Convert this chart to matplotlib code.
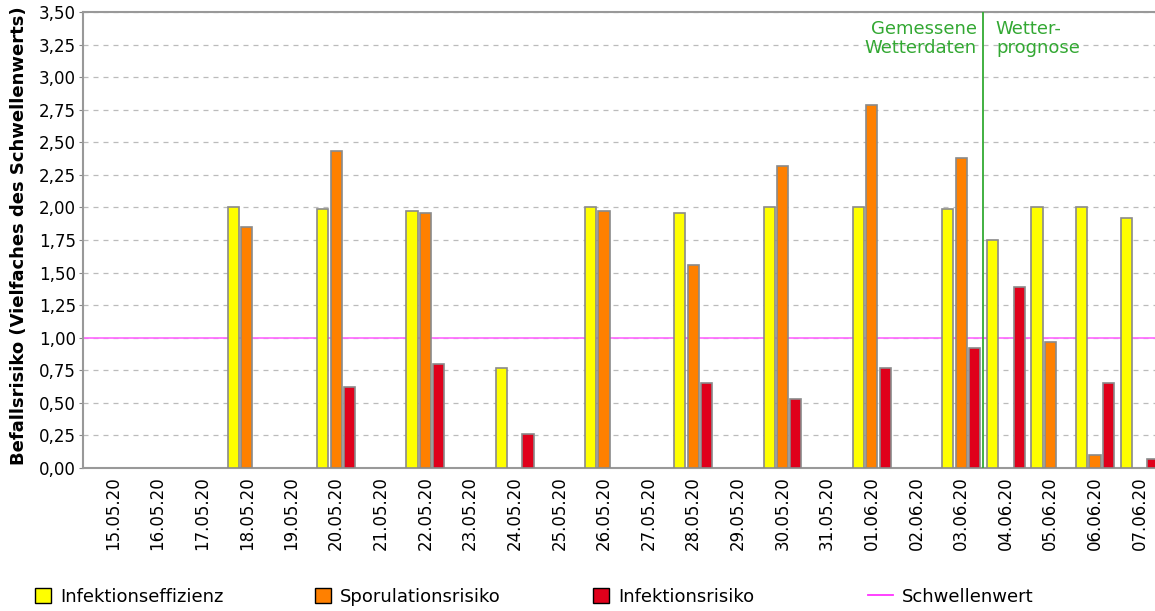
import numpy as np
import matplotlib.pyplot as plt
from matplotlib.lines import Line2D
from matplotlib.patches import Patch

# Befallsrisiko per day, three series plus threshold

dates = ["15.05.20", "16.05.20", "17.05.20", "18.05.20", "19.05.20", "20.05.20",
         "21.05.20", "22.05.20", "23.05.20", "24.05.20", "25.05.20", "26.05.20",
         "27.05.20", "28.05.20", "29.05.20", "30.05.20", "31.05.20", "01.06.20",
         "02.06.20", "03.06.20", "04.06.20", "05.06.20", "06.06.20", "07.06.20"]

infektionseffizienz = [0, 0, 0, 2.00, 0, 1.99, 0, 1.97, 0, 0.77, 0, 2.00,
                       0, 1.96, 0, 2.00, 0, 2.00, 0, 1.99, 1.75, 2.00, 2.00, 1.92]
sporulationsrisiko = [0, 0, 0, 1.85, 0, 2.43, 0, 1.96, 0, 0, 0, 1.97,
                      0, 1.56, 0, 2.32, 0, 2.79, 0, 2.38, 0, 0.97, 0.10, 0]
infektionsrisiko = [0, 0, 0, 0, 0, 0.62, 0, 0.80, 0, 0.26, 0, 0,
                    0, 0.65, 0, 0.53, 0, 0.77, 0, 0.92, 1.39, 0, 0.65, 0.07]
schwellenwert = 1.0
forecast_start = 19.5

yticks = np.arange(0, 3.51, 0.25)


def no_zero(vals):
    # zero bars are not drawn in the original
    v = np.array(vals, dtype=float)
    v[v == 0] = np.nan
    return v


x = np.arange(len(dates))
w = 0.25
step = 0.30

fig = plt.figure(figsize=(11.55, 6.11), dpi=100)
ax = fig.add_axes([83 / 1155, (611 - 468) / 611, (1170 - 83) / 1155, 456 / 611])

edge = "#8a8a8a"
ax.bar(x - step, no_zero(infektionseffizienz), w, color="#ffff00", edgecolor=edge, linewidth=1.2, zorder=3)
ax.bar(x, no_zero(sporulationsrisiko), w, color="#ff8000", edgecolor=edge, linewidth=1.2, zorder=3)
ax.bar(x + step, no_zero(infektionsrisiko), w, color="#e0001b", edgecolor=edge, linewidth=1.2, zorder=3)

ax.axhline(schwellenwert, color="#ff66ff", linewidth=1.2, zorder=2)
ax.axvline(forecast_start, color="#33aa33", linewidth=1.3, zorder=4)

green = "#33a833"
ax.text(forecast_start - 0.15, 3.44, "Gemessene\nWetterdaten", color=green, ha="right", va="top",
        fontsize=13, linespacing=1.1)
ax.text(forecast_start + 0.28, 3.44, "Wetter-\nprognose", color=green, ha="left", va="top",
        fontsize=13, linespacing=1.1)

ax.set_xlim(-0.67, 23.68)
ax.set_ylim(0, 3.5)
ax.set_xticks(x)
ax.set_xticklabels(dates, rotation=90, fontsize=12)
ax.set_yticks(yticks)
ax.set_yticklabels([f"{v:.2f}".replace(".", ",") for v in yticks], fontsize=12)
ax.tick_params(axis="x", length=0, pad=6)
ax.tick_params(axis="y", length=3, color="#888888", pad=2)
ax.yaxis.grid(True, linestyle=(0, (4, 4)), color="#bbbbbb", linewidth=0.9)
ax.set_axisbelow(True)
for s in ["left", "top", "bottom"]:
    ax.spines[s].set_color("#999999")
    ax.spines[s].set_linewidth(1.5)
ax.spines["right"].set_visible(False)

ax.set_ylabel("Befallsrisiko (Vielfaches des Schwellenwerts)", fontsize=13, fontweight="bold")
ax.yaxis.set_label_coords(-0.051, 0.51)

handles = [Patch(facecolor="#ffff00", edgecolor="black"),
           Patch(facecolor="#ff8000", edgecolor="black"),
           Patch(facecolor="#e0001b", edgecolor="black"),
           Line2D([0], [0], color="#ff33ff", linewidth=1.3)]
labels = ["Infektionseffizienz", "Sporulationsrisiko", "Infektionsrisiko", "Schwellenwert"]
xs = [35, 315, 593, 868]
for h, lab, px in zip(handles, labels, xs):
    fig.legend([h], [lab], loc="center left", bbox_to_anchor=(px / 1155, 1 - 597 / 611),
               frameon=False, fontsize=13, handlelength=0.9 if lab != "Schwellenwert" else 1.4,
               handleheight=0.9, handletextpad=0.5, borderaxespad=0, borderpad=0)

fig.savefig("out.png", dpi=100)
